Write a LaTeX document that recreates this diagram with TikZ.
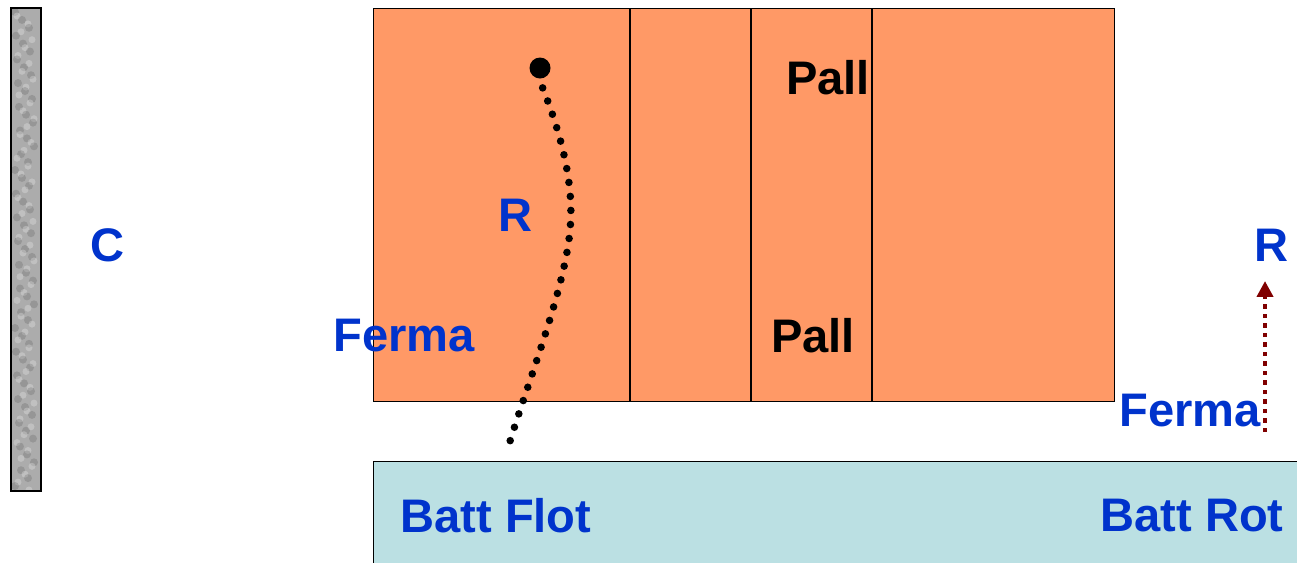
\documentclass[tikz,border=0pt]{standalone}
\usepackage{fontspec}
\setmainfont{Liberation Sans}
\usetikzlibrary{arrows.meta}
\definecolor{orng}{RGB}{255,153,102}
\definecolor{cyanbox}{RGB}{187,224,227}
\definecolor{lblue}{RGB}{0,51,204}
\definecolor{dred}{RGB}{128,0,0}
\definecolor{bargray}{RGB}{172,172,172}
\tikzset{
  lbl/.style={font=\fontsize{26.8}{30}\selectfont\bfseries, text=lblue, inner sep=0pt},
  blk/.style={font=\fontsize{26.8}{30}\selectfont\bfseries, text=black, inner sep=0pt},
  panel/.style={draw=black, line width=0.8pt},
}
\begin{document}
\begin{tikzpicture}[x=0.02cm,y=-0.02cm]
\useasboundingbox (0,0) rectangle (1297,562);
% left textured bar
\fill[bargray] (11,8) rectangle (41,491);
\foreach \i in {0,...,60}{
  \pgfmathsetmacro{\yy}{12+\i*7.9}
  \pgfmathsetmacro{\xa}{15+mod(\i*7,20)}
  \fill[gray!60!black, opacity=0.22] (\xa,\yy) circle (4);
  \pgfmathsetmacro{\xb}{17+mod(\i*11,18)}
  \fill[white, opacity=0.25] (\xb,\yy+4) circle (3.5);
}
\draw[panel] (11,8) rectangle (41,491);
% orange panel
\node[panel, fill=orng, minimum width=741*0.02cm, minimum height=393*0.02cm, inner sep=0pt, anchor=north west] (orange) at (373,8) {};
\draw[panel] (630,8) -- (630,401);
\draw[panel] (751,8) -- (751,401);
\draw[panel] (872,8) -- (872,401);
% cyan box
\node[panel, fill=cyanbox, minimum width=940*0.02cm, minimum height=110*0.02cm, inner sep=0pt, anchor=north west] (batt) at (373,461) {};
% labels
\node[lbl] (C) at (108,245) {C};
\node[blk] (pall1) at (828,78) {Pall};
\node[blk] (pall2) at (813,336) {Pall};
\node[lbl] (R1) at (515,215) {R};
\node[lbl] (F1) at (404,336) {Ferma};
\node[lbl] (R2) at (1271,245) {R};
\node[lbl] (F2) at (1190,411) {Ferma};
\node[lbl] (bf) at (496,516) {Batt Flot};
\node[lbl] (br) at (1192,516) {Batt Rot};
% dot and dotted path
\node[circle, fill=black, inner sep=0pt, minimum size=21*0.02cm] (dot) at (540,68) {};
\coordinate (e) at (508,448);
\draw[line width=4.3pt, line cap=round, dash pattern=on 0pt off 8pt, dash phase=-4pt]
  ([yshift=-0.05cm]dot.south) .. controls (558,125) and (575,180) .. (570,230)
  .. controls (565,290) and (525,390) .. (e);
% dotted arrow
\coordinate (a0) at (1265,432);
\coordinate (a1) at (1265,281);
\draw[dred, line width=2.4pt, dash pattern=on 2.4pt off 3pt, -{Triangle[length=9pt,width=9pt]}] (a0) -- (a1);
\end{tikzpicture}
\end{document}
